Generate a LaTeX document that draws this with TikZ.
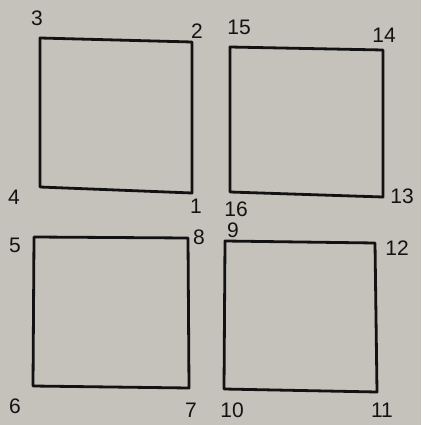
\documentclass[tikz,border=0pt]{standalone}
\usepackage{fontspec}
\setmainfont{Liberation Sans}
\definecolor{bg}{RGB}{196,194,187}
\definecolor{ink}{RGB}{18,18,18}
\tikzset{
  sq/.style={draw=ink, line width=2.8pt, line join=round},
  lab/.style={text=ink, font=\fontsize{21}{21}\selectfont, inner sep=0pt}
}
\begin{document}
\begin{tikzpicture}[x=1pt,y=-1pt]
\fill[bg] (0,0) rectangle (421,425);
\useasboundingbox (0,0) rectangle (421,425);
% square A
\coordinate (c3) at (40,38);
\coordinate (c2) at (192,42);
\coordinate (c1) at (192,193);
\coordinate (c4) at (40,187);
\draw[sq] (c3) -- (c2) -- (c1) -- (c4) -- cycle;
\node[lab] (l3) at (37,18) {3};
\node[lab] (l2) at (197,31) {2};
\node[lab] (l1) at (196,206) {1};
\node[lab] (l4) at (14,197) {4};
% square B
\coordinate (c15) at (230,47);
\coordinate (c14) at (383,50);
\coordinate (c13) at (383,197);
\coordinate (c16) at (230,192);
\draw[sq] (c15) -- (c14) -- (c13) -- (c16) -- cycle;
\node[lab] (l15) at (239,27) {15};
\node[lab] (l14) at (384,35) {14};
\node[lab] (l13) at (402,196) {13};
\node[lab] (l16) at (236,209) {16};
% square C
\coordinate (c5) at (34,237);
\coordinate (c8) at (188,238);
\coordinate (c7) at (189,388);
\coordinate (c6) at (33,386);
\draw[sq] (c5) -- (c8) -- (c7) -- (c6) -- cycle;
\node[lab] (l5) at (15,245) {5};
\node[lab] (l8) at (199,237) {8};
\node[lab] (l7) at (191,410) {7};
\node[lab] (l6) at (15,406) {6};
% square D
\coordinate (c9) at (225,241);
\coordinate (c12) at (375,243);
\coordinate (c11) at (377,392);
\coordinate (c10) at (224,389);
\draw[sq] (c9) -- (c12) -- (c11) -- (c10) -- cycle;
\node[lab] (l9) at (233,230) {9};
\node[lab] (l12) at (397,248) {12};
\node[lab] (l11) at (382,410) {11};
\node[lab] (l10) at (232,410) {10};
\end{tikzpicture}
\end{document}
